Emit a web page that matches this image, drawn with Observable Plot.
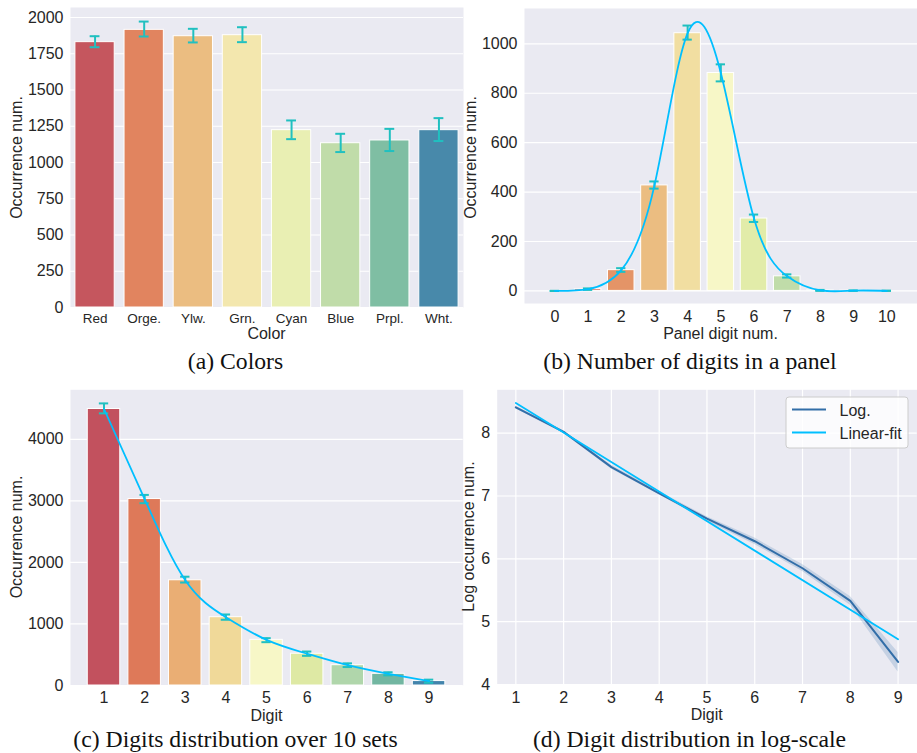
<!DOCTYPE html>
<html><head><meta charset="utf-8">
<script src="https://cdn.jsdelivr.net/npm/d3@7"></script>
<script src="https://cdn.jsdelivr.net/npm/@observablehq/plot@0.6"></script>
<style>
html,body{margin:0;padding:0;background:#fff;}
#wrap{position:relative;width:917px;height:753px;overflow:hidden;background:#fff;}
</style></head><body><div id="wrap"></div>
<script>
// ---------- data ----------
const colorNames = ["Red","Orge.","Ylw.","Grn.","Cyan","Blue","Prpl.","Wht."];
const colorCounts = [1830,1915,1871,1878,1223,1133,1152,1223];
const colorErrLo  = [1795,1869,1828,1830,1161,1072,1079,1148];
const colorErrHi  = [1871,1972,1922,1933,1290,1198,1232,1306];
const colorYTicks = [0,250,500,750,1000,1250,1500,1750,2000];

const panelDigits = [0,1,2,3,4,5,6,7,8,9,10];
const panelCounts = [0,7,84,427,1043,882,293,59,2,1,0];
const panelErrLo  = [0,4,77,414,1017,848,279,54,0,0,0];
const panelErrHi  = [0,10,92,443,1074,917,309,67,4,2,1];
const panelYTicks = [0,200,400,600,800,1000];

const digits = [1,2,3,4,5,6,7,8,9];
const digitCounts = [4493,3030,1710,1110,742,516,330,190,72];
const digitErrLo  = [4422,2962,1673,1068,704,482,300,165,45];
const digitErrHi  = [4584,3097,1768,1154,769,552,360,215,95];
const digitYTicks = [0,1000,2000,3000,4000];

const logMean = [8.41,8.02,7.46,7.04,6.64,6.28,5.85,5.33,4.36];
const logLo   = [8.39,8.00,7.43,7.02,6.60,6.23,5.80,5.26,4.20];
const logHi   = [8.43,8.04,7.49,7.07,6.67,6.33,5.91,5.40,4.51];
const fitX = [1,9];
const fitY = [8.48,4.72];
const logYTicks = [4,5,6,7,8];
const legendLabels = ["Log.","Linear-fit"];

const captions = ["(a) Colors","(b) Number of digits in a panel","(c) Digits distribution over 10 sets","(d) Digit distribution in log-scale"];

// ---------- styles ----------
const FONT = "'Liberation Sans', Arial, sans-serif";
const SERIF = "'Liberation Serif', 'Times New Roman', serif";
const BG = "#eaeaf2", TXT = "#262626", ERR = "#20c0c0", CURVE = "#00bfff", LOGC = "#326ea8";
const spectralStops = ["#9e0142","#d53e4f","#f46d43","#fdae61","#fee08b","#ffffbf","#e6f598","#abdda4","#66c2a5","#3288bd","#5e4fa2"];
const spectral = d3.piecewise(d3.interpolateRgb, spectralStops);
function palette(n){ return d3.range(n).map(i => { const c = d3.hsl(spectral((i+1)/(n+1))); c.s *= 0.75; return c.formatHex(); }); }
const plain = d => String(d);

const wrap = document.getElementById("wrap");
function place(svg, left, top){ svg.style.position="absolute"; svg.style.left=left+"px"; svg.style.top=top+"px"; wrap.appendChild(svg); }

function barPanel({width, height, mt, mr, mb, ml, xDomain, yDomain, yTicks, xTicks, xFormat, xFont, xPad, rows, capHalf, curve}) {
  return Plot.plot({
    width, height, marginTop: mt, marginRight: mr, marginBottom: mb, marginLeft: ml,
    style: {fontFamily: FONT, fontSize: "16px", color: TXT, background: "transparent", overflow: "visible"},
    x: {type: "linear", domain: xDomain},
    y: {domain: yDomain},
    color: {type: "identity"},
    marks: [
      Plot.frame({fill: BG, stroke: "none"}),
      Plot.gridY(yTicks, {stroke: "#fff", strokeOpacity: 1, strokeWidth: 1.2}),
      Plot.rectY(rows, {x1: d => d.x - 0.4, x2: d => d.x + 0.4, y1: 0, y2: "v", fill: "fill", stroke: "#fff", strokeWidth: 1}),
      Plot.ruleX(rows, {x: "x", y1: "lo", y2: "hi", stroke: ERR, strokeWidth: 2}),
      Plot.ruleY(rows, {y: "lo", x1: d => d.x - capHalf, x2: d => d.x + capHalf, stroke: ERR, strokeWidth: 2}),
      Plot.ruleY(rows, {y: "hi", x1: d => d.x - capHalf, x2: d => d.x + capHalf, stroke: ERR, strokeWidth: 2}),
      curve ? Plot.line(rows, {x: "x", y: "v", curve: "natural", stroke: CURVE, strokeWidth: 1.8}) : null,
      Plot.axisY({ticks: yTicks, tickFormat: plain, tickSize: 0, tickPadding: 7, label: null, fontSize: 16}),
      Plot.axisX({ticks: xTicks, tickFormat: xFormat, tickSize: 0, tickPadding: xPad, label: null, fontSize: xFont})
    ]
  });
}

// (a)
const palA = palette(colorNames.length);
const rowsA = colorNames.map((n, i) => ({x: i, v: colorCounts[i], lo: colorErrLo[i], hi: colorErrHi[i], fill: palA[i]}));
place(barPanel({width: 470, height: 330, mt: 7, mr: 7, mb: 23, ml: 70, xDomain: [-0.5, 7.5], yDomain: [0, 2069],
  yTicks: colorYTicks, xTicks: colorNames.map((_, i) => i), xFormat: i => colorNames[i], xFont: 13.5, xPad: 6.4,
  rows: rowsA, capHalf: 0.1, curve: false}), 0, 0);

// (b)
const palB = palette(panelDigits.length);
const rowsB = panelDigits.map((d, i) => ({x: d, v: panelCounts[i], lo: panelErrLo[i], hi: panelErrHi[i], fill: palB[i]}));
place(barPanel({width: 467, height: 330, mt: 8, mr: 0, mb: 27, ml: 74, xDomain: [-0.915, 10.925], yDomain: [-51, 1143],
  yTicks: panelYTicks, xTicks: panelDigits, xFormat: plain, xFont: 16, xPad: 7,
  rows: rowsB, capHalf: 0.14, curve: true}), 450, 0);

// (c)
const palC = palette(digits.length);
const rowsC = digits.map((d, i) => ({x: d, v: digitCounts[i], lo: digitErrLo[i], hi: digitErrHi[i], fill: palC[i]}));
place(barPanel({width: 470, height: 330, mt: 9.3, mr: 7.3, mb: 25, ml: 70, xDomain: [0.175, 9.84], yDomain: [0, 4805],
  yTicks: digitYTicks, xTicks: digits, xFormat: plain, xFont: 16, xPad: 6.3,
  rows: rowsC, capHalf: 0.115, curve: true}), 0, 380);

// (d)
const rowsD = digits.map((d, i) => ({x: d, v: logMean[i], lo: logLo[i], hi: logHi[i]}));
const rowsFit = fitX.map((x, i) => ({x, y: fitY[i]}));
place(Plot.plot({
  width: 467, height: 330, marginTop: 9.3, marginRight: 0.3, marginBottom: 26, marginLeft: 46.7,
  style: {fontFamily: FONT, fontSize: "16px", color: TXT, background: "transparent", overflow: "visible"},
  x: {domain: [0.61, 9.4]},
  y: {domain: [4.0, 8.69]},
  marks: [
    Plot.frame({fill: BG, stroke: "none"}),
    Plot.gridX(digits, {stroke: "#fff", strokeOpacity: 1, strokeWidth: 1.2}),
    Plot.gridY(logYTicks, {stroke: "#fff", strokeOpacity: 1, strokeWidth: 1.2}),
    Plot.areaY(rowsD, {x: "x", y1: "lo", y2: "hi", fill: LOGC, fillOpacity: 0.2}),
    Plot.line(rowsD, {x: "x", y: "v", stroke: LOGC, strokeWidth: 2}),
    Plot.line(rowsFit, {x: "x", y: "y", stroke: CURVE, strokeWidth: 1.8}),
    Plot.axisY({ticks: logYTicks, tickFormat: plain, tickSize: 0, tickPadding: 7, label: null, fontSize: 16}),
    Plot.axisX({ticks: digits, tickFormat: plain, tickSize: 0, tickPadding: 7.3, label: null, fontSize: 16})
  ]
}), 450, 380);

// ---------- overlay: axis titles, captions, legend ----------
const ov = d3.create("svg").attr("width", 917).attr("height", 753)
  .style("position", "absolute").style("left", "0px").style("top", "0px").style("pointer-events", "none");
const sans = (sel) => sel.attr("font-family", FONT).attr("fill", TXT);
// y titles
[["Occurrence num.", 21.5, 157.5], ["Occurrence num.", 475.5, 157.5], ["Occurrence num.", 21.5, 537], ["Log occurrence num.", 474, 536.5]]
  .forEach(([t, x, y]) => sans(ov.append("text")).attr("font-size", 16).attr("text-anchor", "middle")
    .attr("transform", `translate(${x},${y}) rotate(-90)`).text(t));
// x titles
[["Color", 266.5, 339.3], ["Panel digit num.", 720.5, 339.3], ["Digit", 266.5, 720.7], ["Digit", 706.7, 720.3]]
  .forEach(([t, x, y]) => sans(ov.append("text")).attr("font-size", 16).attr("text-anchor", "middle").attr("x", x).attr("y", y).text(t));
// captions
[[235.5, 369.3], [690, 369.3], [235.5, 746.5], [689.5, 746.5]]
  .forEach(([x, y], i) => ov.append("text").attr("font-family", SERIF).attr("font-size", 23.7).attr("fill", "#111")
    .attr("text-anchor", "middle").attr("x", x).attr("y", y).text(captions[i]));
// legend
const lg = ov.append("g");
lg.append("rect").attr("x", 786).attr("y", 397).attr("width", 122).attr("height", 51).attr("rx", 3)
  .attr("fill", "#fff").attr("fill-opacity", 0.8).attr("stroke", "#cccccc").attr("stroke-width", 1);
[[LOGC, 409.5, 416.2], [CURVE, 432.5, 439]].forEach(([c, ly, ty], i) => {
  lg.append("line").attr("x1", 792).attr("x2", 826).attr("y1", ly).attr("y2", ly).attr("stroke", c).attr("stroke-width", 2);
  sans(lg.append("text")).attr("font-size", 16).attr("x", 839.5).attr("y", ty).text(legendLabels[i]);
});
wrap.appendChild(ov.node());
</script></body></html>
